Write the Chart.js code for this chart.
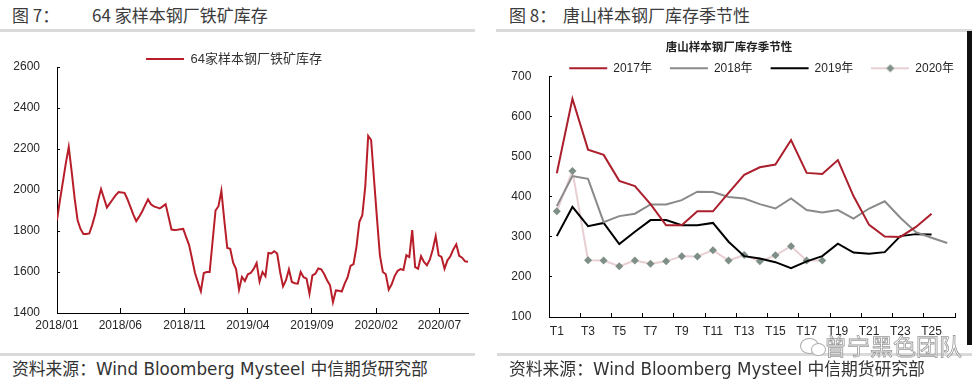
<!DOCTYPE html>
<html>
<head>
<meta charset="utf-8">
<script src="https://cdn.jsdelivr.net/npm/chart.js@4.4.1/dist/chart.umd.min.js"></script>
<style>
  body { margin: 0; background: #fff; }
  #page { position: relative; width: 972px; height: 386px; overflow: hidden; }
  .hd { position: absolute; top: 4px; font-size: 17px; line-height: 22px; color: #3c3c3c; font-family: 'Noto Sans CJK SC', sans-serif; white-space: nowrap; }
  .rule { position: absolute; height: 3px; background: #dadada; }
  .src { position: absolute; top: 358px; font-size: 16.8px; line-height: 22px; color: #333; font-family: 'DejaVu Sans', 'Noto Sans CJK SC', sans-serif; white-space: nowrap; }
  canvas { position: absolute; }
  .wm { position: absolute; left: 824px; top: 332px; font-size: 23px; line-height: 26px; color: rgba(255,255,255,0.5); -webkit-text-stroke: 0.8px #999; font-family: 'Noto Sans CJK SC', sans-serif; white-space: nowrap; }
  .bubble { position: absolute; border: 1px solid #aaa; border-radius: 50%; }
</style>
</head>
<body>
<div id="page">
  <div class="hd" style="left:12px">图 7：</div>
  <div class="hd" style="left:92px">64 家样本钢厂铁矿库存</div>
  <div class="hd" style="left:509px">图 8：</div>
  <div class="hd" style="left:563px">唐山样本钢厂库存季节性</div>
  <div class="rule" style="left:0; top:29px; width:475px"></div>
  <div class="rule" style="left:496px; top:29px; width:476px"></div>

  <canvas id="left" width="486" height="309" style="left:0; top:34px"></canvas>
  <canvas id="right" width="486" height="324" style="left:486px; top:23px"></canvas>

  <div style="position:absolute; left:967px; top:31px; width:5px; height:314px; background:#111"></div>

  <div class="rule" style="left:0; top:353px; width:475px"></div>
  <div class="rule" style="left:497px; top:353px; width:475px"></div>
  <div class="src" style="left:12px">资料来源：Wind Bloomberg Mysteel 中信期货研究部</div>
  <div class="src" style="left:509px">资料来源：Wind Bloomberg Mysteel 中信期货研究部</div>

  <div class="bubble" style="left:800px; top:338px; width:17px; height:14px"></div>
  <div class="bubble" style="left:811px; top:343px; width:13px; height:11px; background:#fff"></div>
  <div class="wm">曾宁黑色团队</div>
</div>

<script>
// 64家样本钢厂铁矿库存, weekly from 2018/01
const inventory = [
  1853, 1950, 2040, 2130, 2210, 2090, 1960, 1853, 1810, 1785,
  1785, 1788, 1830, 1880, 1950, 2005, 1960, 1915, 1935, 1955,
  1975, 1990, 1988, 1986, 1955, 1918, 1880, 1848, 1870, 1895,
  1925, 1954, 1930, 1920, 1915, 1910, 1920, 1931, 1870, 1807,
  1805, 1806, 1808, 1810, 1770, 1731, 1665, 1595, 1550, 1506,
  1595, 1600, 1600, 1750, 1900, 1921, 1996, 1850, 1717, 1713,
  1645, 1614, 1514, 1576, 1556, 1589, 1595, 1615, 1644, 1553,
  1600, 1579, 1693, 1690, 1701, 1690, 1600, 1530, 1560, 1613,
  1551, 1545, 1543, 1600, 1575, 1568, 1494, 1584, 1592, 1617,
  1613, 1590, 1560, 1535, 1453, 1510, 1508, 1505, 1543, 1575,
  1630, 1638, 1722, 1845, 1877, 2016, 2264, 2244, 2050, 1860,
  1680, 1600, 1589, 1514, 1540, 1580, 1605, 1614, 1610, 1682,
  1673, 1804, 1624, 1616, 1677, 1649, 1633, 1660, 1710, 1775,
  1682, 1673, 1616, 1657, 1677, 1710, 1735, 1679, 1670, 1652,
  1650
];
const xTickLabels = ['2018/01', '2018/06', '2018/11', '2019/04', '2019/09', '2020/02', '2020/07'];

// 唐山样本钢厂库存季节性
const periods = ['T1','T2','T3','T4','T5','T6','T7','T8','T9','T10','T11','T12','T13',
                 'T14','T15','T16','T17','T18','T19','T20','T21','T22','T23','T24','T25','T26'];
const y2017 = [459, 645, 518, 505, 440, 427, 382, 329, 329, 364, 364, 410, 455, 474, 481, 542, 460, 457, 492, 402, 330, 301, 300, 325, 358, null];
const y2018 = [377, 452, 445, 337, 352, 358, 381, 381, 392, 413, 412, 400, 396, 382, 371, 396, 367, 361, 367, 346, 371, 389, 348, 312, 298, 285];
const y2019 = [302, 375, 327, 335, 282, 313, 342, 342, 329, 329, 335, 288, 252, 246, 237, 222, 239, 252, 283, 261, 258, 262, 302, 307, 306, null];
const y2020 = [364, 465, 242, 241, 227, 241, 233, 239, 252, 251, 267, 241, 255, 239, 254, 277, 241, 241, null, null, null, null, null, null, null, null];

const FONT = "'Liberation Sans', 'Noto Sans CJK SC', sans-serif";
const TXT = '#262626';

function weeksSinceStart(label) {
  const [y, m] = label.split('/').map(Number);
  return (Date.UTC(y, m - 1, 1) - Date.UTC(2018, 0, 1)) / (7 * 86400000);
}

// move legend / title boxes after layout (legend sits closer to the plot than chart.js allows)
const nudgeBoxes = {
  id: 'nudgeBoxes',
  afterLayout(chart, args, opts) {
    const boxes = { legend: chart.legend, title: chart.titleBlock };
    for (const key of ['legend', 'title']) {
      const dy = opts[key];
      if (typeof dy === 'number' && boxes[key]) {
        boxes[key].top += dy;
        boxes[key].bottom += dy;
      }
    }
  }
};

new Chart('left', {
  type: 'line',
  data: {
    datasets: [{
      label: '64家样本钢厂铁矿库存',
      data: inventory.map((v, i) => ({ x: i, y: v })),
      borderColor: '#b81e2a',
      borderWidth: 2,
      pointRadius: 0,
      tension: 0
    }]
  },
  options: {
    responsive: false,
    animation: false,
    layout: { padding: { right: 18 } },
    plugins: {
      legend: {
        labels: { usePointStyle: true, pointStyle: 'line', pointStyleWidth: 38, padding: 10,
                  font: { size: 13, family: FONT }, color: '#333' }
      },
      tooltip: { enabled: false },
      nudgeBoxes: { legend: 8.5 }
    },
    scales: {
      x: {
        type: 'linear', min: 0, max: 140,
        afterBuildTicks: s => { s.ticks = xTickLabels.map(l => ({ value: weeksSinceStart(l) })); },
        afterFit: s => { s.height = 30; },
        grid: { drawOnChartArea: false, tickLength: -5, color: '#000' },
        border: { color: '#000' },
        ticks: { autoSkip: false, maxRotation: 0, padding: 10, color: TXT, font: { size: 12, family: FONT },
                 callback: (v, i) => xTickLabels[i] }
      },
      y: {
        min: 1400, max: 2600,
        afterFit: s => { s.width = 57; },
        grid: { drawOnChartArea: false, tickLength: -3, color: '#000' },
        border: { color: '#000' },
        ticks: { stepSize: 200, padding: 20, color: TXT, font: { size: 12, family: FONT },
                 callback: v => String(v) }
      }
    }
  },
  plugins: [nudgeBoxes]
});

// legend marker for 2020: pale line with a diamond
const marker2020 = document.createElement('canvas');
marker2020.width = 38; marker2020.height = 10;
(function () {
  const g = marker2020.getContext('2d');
  g.strokeStyle = '#e8cfd3'; g.lineWidth = 2;
  g.beginPath(); g.moveTo(0, 5); g.lineTo(38, 5); g.stroke();
  g.fillStyle = '#7d8f86';
  g.beginPath(); g.moveTo(19, 1); g.lineTo(23, 5); g.lineTo(19, 9); g.lineTo(15, 5); g.closePath(); g.fill();
})();

new Chart('right', {
  type: 'line',
  data: {
    labels: periods,
    datasets: [
      { label: '2017年', data: y2017, borderColor: '#ab1f2c', borderWidth: 2, pointRadius: 0, tension: 0 },
      { label: '2018年', data: y2018, borderColor: '#8a8a8a', borderWidth: 2, pointRadius: 0, tension: 0 },
      { label: '2019年', data: y2019, borderColor: '#000000', borderWidth: 2, pointRadius: 0, tension: 0 },
      { label: '2020年', data: y2020, borderColor: '#e8cfd3', borderWidth: 2, tension: 0,
        pointStyle: 'rectRot', pointRadius: 4, pointBackgroundColor: '#7d8f86', pointBorderWidth: 0 }
    ]
  },
  options: {
    responsive: false,
    animation: false,
    plugins: {
      title: { display: true, text: '唐山样本钢厂库存季节性', color: '#222', padding: 0,
               font: { size: 11.5, weight: 'bold', family: "'Noto Sans CJK SC', sans-serif" } },
      legend: {
        align: 'end',
        labels: {
          usePointStyle: true, pointStyleWidth: 38, padding: 18,
          font: { size: 12, family: FONT }, color: TXT,
          generateLabels: chart => {
            const items = Chart.defaults.plugins.legend.labels.generateLabels(chart);
            items.forEach((it, i) => { it.pointStyle = i === 3 ? marker2020 : 'line'; it.lineWidth = 2; });
            return items;
          }
        }
      },
      tooltip: { enabled: false },
      nudgeBoxes: { title: 17.1, legend: 7.5 }
    },
    scales: {
      x: {
        type: 'category', offset: true,
        afterFit: s => { s.height = 30; },
        grid: { offset: true, drawOnChartArea: false, tickLength: -4,
                tickColor: ctx => (ctx.index === undefined || ctx.index % 2 === 0) ? '#000' : 'rgba(0,0,0,0)' },
        border: { color: '#000' },
        ticks: { autoSkip: false, maxRotation: 0, padding: 11.5, color: TXT, font: { size: 12, family: FONT },
                 callback: function (v, i) { return i % 2 === 0 ? this.getLabelForValue(v) : ''; } }
      },
      y: {
        min: 100, max: 700,
        afterFit: s => { s.width = 63; },
        grid: { drawOnChartArea: false, tickLength: -3, color: '#000' },
        border: { color: '#000' },
        ticks: { stepSize: 100, padding: 20.7, color: TXT, font: { size: 12, family: FONT } }
      },
      y2: {
        type: 'linear', position: 'right',
        afterFit: s => { s.width = 17; },
        grid: { display: false }, border: { display: false }, ticks: { display: false }
      }
    }
  },
  plugins: [nudgeBoxes]
});
</script>
</body>
</html>
